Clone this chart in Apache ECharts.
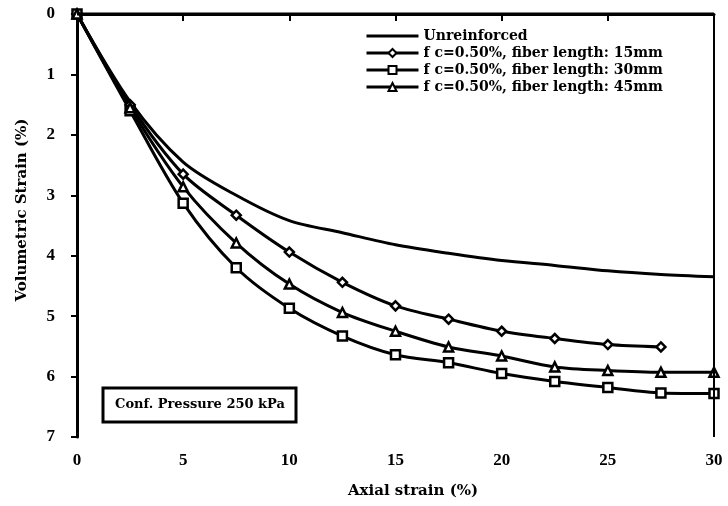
<!DOCTYPE html>
<html>
<head>
<meta charset="utf-8">
<script src="https://cdn.jsdelivr.net/npm/echarts@6/dist/echarts.min.js"></script>
<style>
    html, body { margin: 0; padding: 0; background: #fff; }
    #main { width: 728px; height: 506px; }
</style>
</head>
<body>
<div id="main"></div>
<script>
    // axial strain (%)
    var axialStrain = [0, 2.5, 5, 7.5, 10, 12.5, 15, 17.5, 20, 22.5, 25, 27.5, 30];
    // volumetric strain (%)
    var unreinforced = [0, 1.45, 2.45, 3.0, 3.42, 3.62, 3.82, 3.96, 4.08, 4.16, 4.25, 4.31, 4.35];
    var fiber15 = [0, 1.5, 2.65, 3.33, 3.94, 4.44, 4.83, 5.05, 5.25, 5.37, 5.47, 5.51];
    var fiber45 = [0, 1.55, 2.86, 3.79, 4.47, 4.94, 5.25, 5.51, 5.66, 5.84, 5.9, 5.93, 5.93];
    var fiber30 = [0, 1.6, 3.13, 4.2, 4.87, 5.33, 5.64, 5.77, 5.95, 6.08, 6.18, 6.27, 6.28];
    var seriesNames = [
        'Unreinforced',
        'f c=0.50%, fiber length: 15mm',
        'f c=0.50%, fiber length: 30mm',
        'f c=0.50%, fiber length: 45mm'
    ];
    var xTicks = [0, 5, 10, 15, 20, 25, 30];
    var yTicks = [0, 1, 2, 3, 4, 5, 6, 7];

    var FONT = 'Liberation Serif';
    var WIDE = 'DejaVu Serif';

    function pairs(ys) {
        var out = [];
        for (var i = 0; i < ys.length; i++) out.push([axialStrain[i], ys[i]]);
        return out;
    }

    function makeSeries(name, ys, symbol) {
        return {
            name: name,
            type: 'line',
            smooth: 0.3,
            data: pairs(ys),
            symbol: symbol,
            symbolSize: symbol === 'none' ? 0 : 9,
            showSymbol: symbol !== 'none',
            lineStyle: { color: '#000', width: 3 },
            itemStyle: { color: '#fff', borderColor: '#000', borderWidth: 2.5 },
            z: 3
        };
    }

    var chart = echarts.init(document.getElementById('main'));
    chart.setOption({
        animation: false,
        backgroundColor: '#fff',
        grid: { left: 77, right: 14, top: 14, bottom: 69 },
        legend: {
            orient: 'vertical',
            left: 360,
            top: 24,
            itemWidth: 52,
            itemHeight: 10,
            itemGap: 3,
            lineStyle: { width: 3, color: '#000' },
            data: [
                { name: seriesNames[0], icon: 'path://M0,4 L52,4 L52,7 L0,7 Z', itemStyle: { color: '#000', borderWidth: 0 } },
                seriesNames[1], seriesNames[2], seriesNames[3]
            ],
            textStyle: { fontFamily: WIDE, fontSize: 14, fontWeight: 'bold', color: '#000' }
        },
        xAxis: {
            type: 'value',
            min: 0, max: 30, interval: 5,
            axisLine: { lineStyle: { color: '#000', width: 3 } },
            axisTick: { show: true, length: 7, lineStyle: { color: '#000', width: 2 } },
            axisLabel: {
                fontFamily: FONT, fontSize: 17, fontWeight: 'bold', color: '#000', margin: 15,
                formatter: function (v) { return xTicks.indexOf(v) >= 0 ? String(v) : ''; }
            },
            splitLine: { show: false }
        },
        yAxis: {
            type: 'value',
            inverse: true,
            min: 0, max: 7, interval: 1,
            axisLine: { lineStyle: { color: '#000', width: 3 } },
            axisTick: { show: true, length: 6, lineStyle: { color: '#000', width: 2 } },
            axisLabel: {
                fontFamily: FONT, fontSize: 17, fontWeight: 'bold', color: '#000', margin: 22,
                formatter: function (v) { return yTicks.indexOf(v) >= 0 ? String(v) : ''; }
            },
            splitLine: { show: false }
        },
        graphic: [
            // frame: top and right edges
            { type: 'line', shape: { x1: 77, y1: 14, x2: 714, y2: 14 }, style: { stroke: '#000', lineWidth: 3 }, z: 10 },
            { type: 'line', shape: { x1: 714, y1: 14, x2: 714, y2: 437 }, style: { stroke: '#000', lineWidth: 2 }, z: 10 },
            // axis titles
            { type: 'text', x: 22, y: 210, rotation: Math.PI / 2,
              style: { text: 'Volumetric Strain (%)', font: 'bold 15px "DejaVu Serif"', fill: '#000', align: 'center', verticalAlign: 'middle' } },
            { type: 'text', x: 413, y: 491,
              style: { text: 'Axial strain (%)', font: 'bold 15px "DejaVu Serif"', fill: '#000', align: 'center', verticalAlign: 'middle' } },
            // pressure note
            { type: 'rect', shape: { x: 103, y: 388, width: 193, height: 34 }, style: { fill: '#fff', stroke: '#000', lineWidth: 3 }, z: 10 },
            { type: 'text', x: 200, y: 405, style: { text: 'Conf. Pressure 250 kPa', font: 'bold 13px "DejaVu Serif"', fill: '#000', align: 'center', verticalAlign: 'middle' }, z: 11 }
        ],
        series: [
            makeSeries(seriesNames[0], unreinforced, 'none'),
            makeSeries(seriesNames[1], fiber15, 'diamond'),
            makeSeries(seriesNames[2], fiber30, 'rect'),
            makeSeries(seriesNames[3], fiber45, 'triangle')
        ]
    });
</script>
</body>
</html>
